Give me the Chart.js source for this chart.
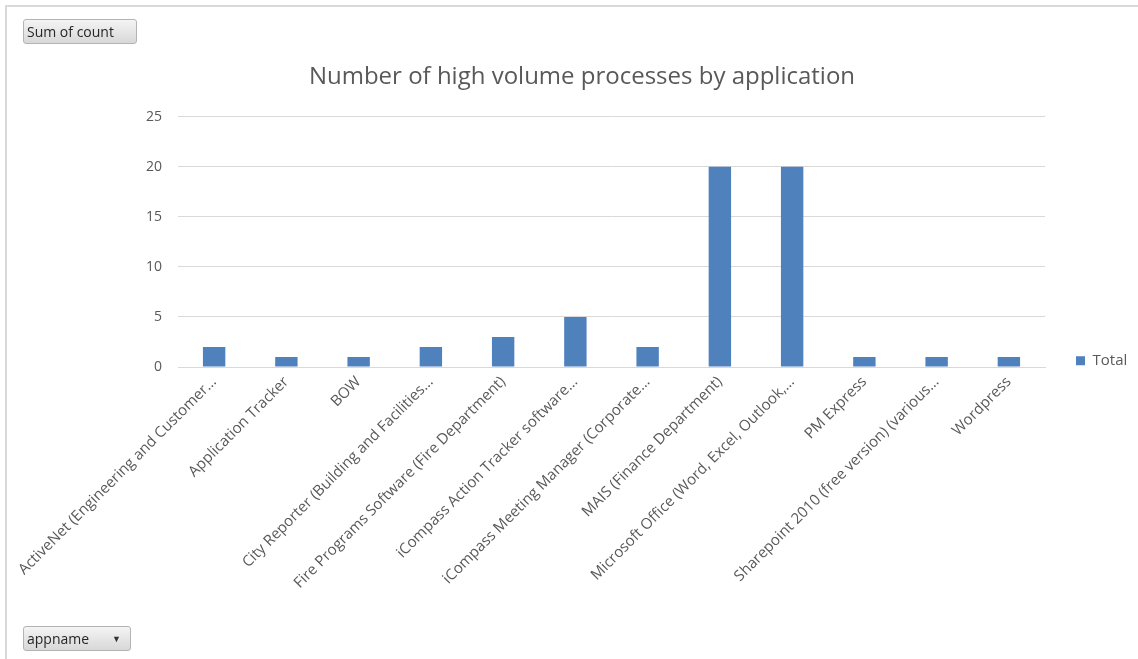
<!DOCTYPE html>
<html>
<head>
<meta charset="utf-8">
<script src="https://cdn.jsdelivr.net/npm/chart.js@4"></script>
<style>
  html, body { margin: 0; padding: 0; background: #fff; overflow: hidden; }
  body { width: 1138px; height: 659px; position: relative; font-family: "Open Sans", sans-serif; }
  #frame { position: absolute; left: 5px; top: 5px; width: 1140px; height: 660px;
           border-left: 2px solid #d9d9d9; border-top: 2px solid #d9d9d9; }
  #wrap { position: absolute; left: 6px; top: 6px; width: 1132px; height: 653px; }
  .pivotBtn { position: absolute; left: 23px; height: 25px; box-sizing: border-box;
              border: 1px solid #b4b4b4; border-radius: 3px;
              background: linear-gradient(#f4f4f4, #d8d8d8);
              font-size: 14px; color: #262626; line-height: 23px; padding-left: 3px; }
  #sumBtn { top: 19px; width: 114px; }
  #appBtn { top: 626px; width: 108px; }
  #appBtn span { position: absolute; right: 9px; top: 0; font-size: 9px; color: #333; }
</style>
</head>
<body>
<div id="frame"></div>
<div id="wrap"><canvas id="chart" width="1132" height="653"></canvas></div>
<div class="pivotBtn" id="sumBtn">Sum of count</div>
<div class="pivotBtn" id="appBtn">appname<span>&#9660;</span></div>
<script>
const appNames = [
    'ActiveNet (Engineering and Customer...',
    'Application Tracker',
    'BOW',
    'City Reporter (Building and Facilities...',
    'Fire Programs Software (Fire Department)',
    'iCompass Action Tracker software...',
    'iCompass Meeting Manager (Corporate...',
    'MAIS (Finance Department)',
    'Microsoft Office (Word, Excel, Outlook,...',
    'PM Express',
    'Sharepoint 2010 (free version) (various...',
    'Wordpress',
];
const totals = [2, 1, 1, 2, 3, 5, 2, 20, 20, 1, 1, 1];
const yTicks = [0, 5, 10, 15, 20, 25];

const textColor = '#595959';
const gridColor = '#d9d9d9';
const ctx = document.getElementById('chart').getContext('2d');

let chart = new Chart(ctx, {
    type: 'bar',
    data: {
        labels: appNames,
        datasets: [{
            label: 'Total',
            data: totals,
            backgroundColor: '#4f81bd',
            borderWidth: 0,
            categoryPercentage: 1,
            barPercentage: 0.31,
        }],
    },
    options: {
        responsive: false,
        animation: false,
        layout: {
            padding: { left: 20, right: 0, top: 0, bottom: 0 },
        },
        plugins: {
            title: {
                display: true,
                text: 'Number of high volume processes by application',
                color: textColor,
                font: { family: 'Open Sans', size: 24, weight: 'normal' },
                padding: { top: 57, bottom: 25 },
            },
            legend: {
                position: 'right',
                align: 'start',
                fullSize: false,
                title: {
                    display: true,
                    text: ' ',
                    font: { size: 12 },
                    padding: { top: 191, bottom: 0 },
                },
                labels: {
                    boxWidth: 9,
                    boxHeight: 9,
                    padding: 31,
                    color: textColor,
                    font: { family: 'Open Sans', size: 15 },
                },
            },
            tooltip: { enabled: false },
        },
        scales: {
            x: {
                grid: { display: false, drawTicks: false },
                border: { color: gridColor },
                ticks: {
                    color: textColor,
                    font: { family: 'Open Sans', size: 15 },
                    minRotation: 45,
                    maxRotation: 45,
                    autoSkip: false,
                    padding: 6,
                },
                afterFit: (scale) => {
                    scale.height = 292;
                    // long first label may hang past the left edge, like in Excel
                    scale.paddingLeft = 0;
                    scale.paddingRight = 0;
                },
            },
            y: {
                min: 0,
                max: 25,
                afterBuildTicks: (scale) => { scale.ticks = yTicks.map(v => ({ value: v })); },
                grid: { color: gridColor, drawTicks: false },
                border: { display: false },
                ticks: {
                    color: textColor,
                    font: { family: 'Open Sans', size: 14 },
                    padding: 16,
                },
                afterFit: (scale) => { scale.width = 152; },
            },
        },
    },
    plugins: [{
        // pin the legend box to the Excel-like width on the right
        id: 'legendWidth',
        afterInit(c) {
            const lg = c.legend;
            const fit = lg.fit.bind(lg);
            lg.fit = function () { fit(); this.width = 93; };
        },
    }],
});
chart.update();
</script>
</body>
</html>
